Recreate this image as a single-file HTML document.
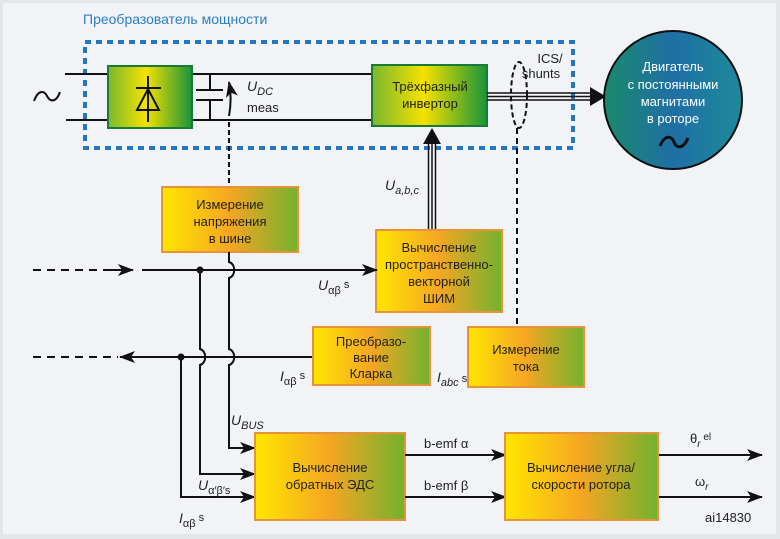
<!DOCTYPE html>
<html><head><meta charset="utf-8"><style>
body{margin:0;background:#fff}
svg{display:block}
text{font-family:"Liberation Sans",sans-serif;font-size:13px;fill:#222}
.c{text-anchor:middle}
</style></head><body>
<svg width="780" height="539" viewBox="0 0 780 539" xmlns="http://www.w3.org/2000/svg">
<defs>
<linearGradient id="og" x1="0" x2="1" y1="0" y2="0">
<stop offset="0" stop-color="#ffe600"/><stop offset="0.5" stop-color="#f5a623"/><stop offset="1" stop-color="#72b22e"/></linearGradient>
<linearGradient id="gg" x1="0" x2="1" y1="0" y2="0">
<stop offset="0" stop-color="#7ab82e"/><stop offset="0.45" stop-color="#f5e200"/><stop offset="1" stop-color="#18943a"/></linearGradient>
<linearGradient id="mg" x1="0" x2="1" y1="0" y2="0">
<stop offset="0" stop-color="#1a8a6a"/><stop offset="0.5" stop-color="#1f6fa5"/><stop offset="1" stop-color="#1e8a9a"/></linearGradient>
<marker id="a" markerWidth="16" markerHeight="12" refX="15" refY="6" orient="auto" markerUnits="userSpaceOnUse"><path d="M0,0 L16,6 L0,12 L4,6 Z" fill="#111"/></marker>
</defs>
<rect x="0" y="0" width="780" height="539" fill="#e4e5e8"/>
<rect x="3" y="3" width="773" height="531" fill="#f2f3f7"/>
<text x="83" y="24" style="fill:#2a7fc0;font-size:14px">Преобразователь мощности</text>
<rect x="85" y="42" width="488" height="106" fill="none" stroke="#2277c0" stroke-width="4" stroke-dasharray="6,5"/>
<path d="M34,101 C38,90 44,90 47,96 C50,102 56,103 60,92" fill="none" stroke="#111" stroke-width="2"/>
<g stroke="#111" stroke-width="2" fill="none">
<line x1="65" y1="74" x2="108" y2="74"/><line x1="66" y1="120" x2="108" y2="120"/>
<line x1="192" y1="74" x2="372" y2="74"/><line x1="192" y1="120" x2="372" y2="120"/>
<line x1="210" y1="74" x2="210" y2="90"/><line x1="210" y1="100" x2="210" y2="120"/>
<line x1="196" y1="90" x2="223" y2="90"/><line x1="196" y1="100" x2="223" y2="100"/>
<path d="M229,116 C231,105 231,92 229,82" marker-end="url(#a)"/>
</g>
<rect x="108" y="66" width="84" height="62" fill="url(#gg)" stroke="#177a35" stroke-width="2"/>
<g stroke="#111" stroke-width="2" fill="none">
<line x1="148" y1="76" x2="148" y2="122"/><line x1="136" y1="88" x2="161" y2="88"/>
<path d="M148,89 L137,110 L159,110 Z"/>
</g>
<text x="247" y="91" style="font-style:italic;font-size:14px">U<tspan dy="4" font-size="11">DC</tspan></text>
<text x="247" y="112" style="font-size:13px">meas</text>
<rect x="372" y="65" width="115" height="61" fill="url(#gg)" stroke="#177a35" stroke-width="2"/>
<text class="c" x="430" y="91">Трёхфазный</text><text class="c" x="430" y="108">инвертор</text>
<g stroke="#111" stroke-width="1.5"><line x1="487" y1="93" x2="595" y2="93"/><line x1="487" y1="96.5" x2="595" y2="96.5"/><line x1="487" y1="100" x2="595" y2="100"/></g>
<path d="M590,87 L606,96.5 L590,106 Z" fill="#111"/>
<ellipse cx="519" cy="95" rx="8" ry="33" fill="none" stroke="#111" stroke-width="2" stroke-dasharray="5,3"/>
<text x="550" y="63" class="c">ICS/</text><text x="541" y="78" class="c">shunts</text>
<circle cx="673" cy="100" r="69" fill="url(#mg)" stroke="#111" stroke-width="2"/>
<text class="c" x="673" y="71" style="fill:#fff">Двигатель</text><text class="c" x="673" y="89" style="fill:#fff">с постоянными</text><text class="c" x="673" y="106" style="fill:#fff">магнитами</text><text class="c" x="673" y="123" style="fill:#fff">в роторе</text>
<path d="M660,146 C665,134 672,136 674,142 C676,148 683,150 688,138" fill="none" stroke="#111" stroke-width="3"/>
<line x1="229" y1="122" x2="229" y2="187" stroke="#111" stroke-width="2" stroke-dasharray="5,3"/>
<line x1="517" y1="128" x2="517" y2="327" stroke="#111" stroke-width="2" stroke-dasharray="6,4"/>
<g stroke="#111" stroke-width="1.5"><line x1="428.5" y1="230" x2="428.5" y2="140"/><line x1="432" y1="230" x2="432" y2="140"/><line x1="435.5" y1="230" x2="435.5" y2="140"/></g>
<path d="M423,144 L432,128 L441,144 Z" fill="#111"/>
<text x="385" y="190" style="font-style:italic;font-size:14px">U<tspan dy="4" font-size="11">a,b,c</tspan></text>
<rect x="162" y="187" width="136" height="65" fill="url(#og)" stroke="#e8923a" stroke-width="2"/>
<text class="c" x="230" y="209">Измерение</text><text class="c" x="230" y="226">напряжения</text><text class="c" x="230" y="243">в шине</text>
<rect x="376" y="230" width="126" height="82" fill="url(#og)" stroke="#e8923a" stroke-width="2"/>
<text class="c" x="439" y="252">Вычисление</text><text class="c" x="439" y="269">пространственно-</text><text class="c" x="439" y="286">векторной</text><text class="c" x="439" y="303">ШИМ</text>
<g stroke="#111" stroke-width="2" fill="none">
<line x1="33" y1="270" x2="118" y2="270" stroke-dasharray="8,6"/>
<line x1="110" y1="270" x2="133" y2="270" marker-end="url(#a)"/>
<line x1="142" y1="270" x2="377" y2="270" marker-end="url(#a)"/>
<line x1="33" y1="357" x2="118" y2="357" stroke-dasharray="8,6"/>
<line x1="140" y1="357" x2="120" y2="357" marker-end="url(#a)"/>
<line x1="138" y1="357" x2="313" y2="357"/>
<path d="M229,252 L229,262 C236,264 236,276 229,278 L229,349 C236,351 236,363 229,365 L229,448 L255,448" marker-end="url(#a)"/>
<path d="M200,270 L200,349 C207,351 207,363 200,365 L200,474 L255,474" marker-end="url(#a)"/>
<path d="M181,357 L181,497 L255,497" marker-end="url(#a)"/>
</g>
<circle cx="200" cy="270" r="3.5" fill="#111"/><circle cx="181" cy="357" r="3.5" fill="#111"/>
<text x="318" y="290" style="font-style:italic;font-size:14px">U<tspan dy="4" font-size="11" font-style="normal">αβ</tspan><tspan dy="-6" font-size="11" font-style="normal"> s</tspan></text>
<rect x="313" y="327" width="117" height="58" fill="url(#og)" stroke="#e8923a" stroke-width="2"/>
<text class="c" x="371" y="346">Преобразо-</text><text class="c" x="371" y="362">вание</text><text class="c" x="371" y="378">Кларка</text>
<text x="280" y="381" style="font-style:italic;font-size:14px">I<tspan dy="4" font-size="11" font-style="normal">αβ</tspan><tspan dy="-6" font-size="11" font-style="normal"> s</tspan></text>
<text x="437" y="382" style="font-style:italic;font-size:14px">I<tspan dy="4" font-size="11">abc</tspan><tspan dy="-4" font-size="11" font-style="normal"> s</tspan></text>
<rect x="468" y="327" width="116" height="60" fill="url(#og)" stroke="#e8923a" stroke-width="2"/>
<text class="c" x="526" y="354">Измерение</text><text class="c" x="526" y="371">тока</text>
<text x="231" y="425" style="font-style:italic;font-size:14px">U<tspan dy="4" font-size="11">BUS</tspan></text>
<text x="198" y="490" style="font-style:italic;font-size:14px">U<tspan dy="4" font-size="11" font-style="normal">α′β′s</tspan></text>
<text x="179" y="523" style="font-style:italic;font-size:14px">I<tspan dy="4" font-size="11" font-style="normal">αβ</tspan><tspan dy="-6" font-size="11" font-style="normal"> s</tspan></text>
<rect x="255" y="433" width="150" height="87" fill="url(#og)" stroke="#e8923a" stroke-width="2"/>
<text class="c" x="330" y="472">Вычисление</text><text class="c" x="330" y="489">обратных ЭДС</text>
<g stroke="#111" stroke-width="2"><line x1="405" y1="455" x2="506" y2="455" marker-end="url(#a)"/><line x1="405" y1="497" x2="506" y2="497" marker-end="url(#a)"/>
<line x1="658" y1="455" x2="762" y2="455" marker-end="url(#a)"/><line x1="658" y1="497" x2="762" y2="497" marker-end="url(#a)"/></g>
<text x="424" y="448">b-emf α</text><text x="424" y="490">b-emf β</text>
<rect x="505" y="433" width="153" height="87" fill="url(#og)" stroke="#e8923a" stroke-width="2"/>
<text class="c" x="581" y="472">Вычисление угла/</text><text class="c" x="581" y="489">скорости ротора</text>
<text x="690" y="443">θ<tspan dy="4" font-size="10" font-style="italic">r</tspan><tspan dy="-7" font-size="10"> el</tspan></text>
<text x="695" y="486">ω<tspan dy="4" font-size="10" font-style="italic">r</tspan></text>
<text x="705" y="522">ai14830</text>
</svg>
</body></html>
